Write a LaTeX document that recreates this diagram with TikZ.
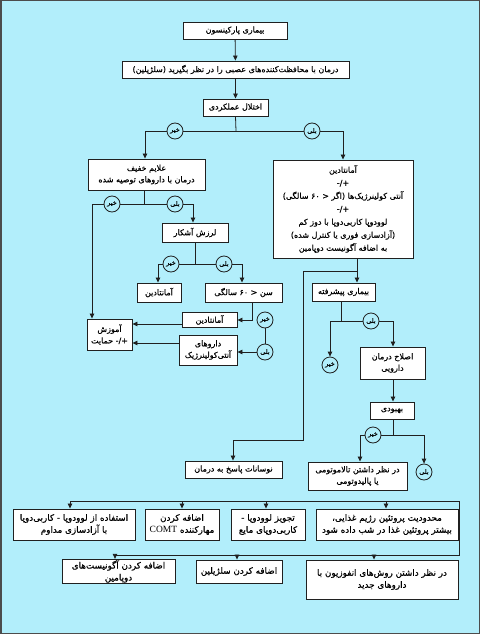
\documentclass[tikz,border=0pt]{standalone}
\usepackage{fontspec}
\usetikzlibrary{arrows.meta}
\newfontfamily\farsi[Script=Arabic, FakeBold=0.5]{DejaVu Sans}
\newfontfamily\latin{Liberation Serif}
\TeXXeTstate=1
\definecolor{bgcyan}{HTML}{B2EEFB}
\definecolor{ink}{HTML}{202020}

\begin{document}
\begin{tikzpicture}[x=1pt,y=-1pt]
        \def\fa#1{\beginR#1\endR}
        \def\pm{\beginL+/-\endL}
        \tikzstyle{box} = [draw=ink, line width=0.9pt, fill=white, inner sep=1pt, align=center, font=\farsi\fontsize{8}{11.5}\selectfont]
        \tikzstyle{big} = [font=\farsi\fontsize{8.8}{12}\selectfont]
        \tikzstyle{yn} = [circle, draw=ink, line width=0.8pt, fill=bgcyan, inner sep=0pt, minimum size=16pt, font=\farsi\fontsize{6.5}{6.5}\selectfont]
        \tikzstyle{link} = [draw=ink, line width=0.8pt]
        \tikzstyle{arr} = [link, -{Triangle[length=5pt,width=4.5pt]}]
        % Draw the background and its frame
        \useasboundingbox (0,0) rectangle (480,634);
        \fill[bgcyan] (0,0) rectangle (480,634);
        \draw[gray!60!black, line width=1.5pt] (0.75,0.75) rectangle (479.25,633.25);
        % Draw the boxes of the upper part
        \node[box, minimum width=104pt, minimum height=17pt] (park) at (235,30.5) {\fa{بیماری پارکینسون}};
        \node[box, minimum width=227pt, minimum height=17pt] (neuro) at (235.5,69.5) {\fa{درمان با محافظت‌کننده‌های عصبی را در نظر بگیرید (سلژیلین)}};
        \node[box, minimum width=65pt, minimum height=17pt] (func) at (235.5,107.5) {\fa{اختلال عملکردی}};
        \node[box, minimum width=117pt, minimum height=31pt] (mild) at (146.5,174.5) {\fa{علایم خفیف}\\\fa{درمان با داروهای توصیه شده}};
        \node[box, minimum width=140pt, minimum height=98pt, font=\farsi\fontsize{8}{13}\selectfont] (amanR) at (343,209) {\fa{آمانتادین}\\\fa{\pm}\\\fa{آنتی کولینرژیک‌ها (اگر \beginL<\endL{} ۶۰ سالگی)}\\\fa{\pm}\\\fa{لوودوپا کاربی‌دوپا با دوز کم}\\\fa{(آزادسازی فوری یا کنترل شده)}\\\fa{به اضافه آگونیست دوپامین}};
        % Draw the boxes of the left branch
        \node[box, minimum width=66pt, minimum height=19pt] (tremor) at (195,232.5) {\fa{لرزش آشکار}};
        \node[box, minimum width=44pt, minimum height=19pt] (aman1) at (159,292.5) {\fa{آمانتادین}};
        \node[box, minimum width=77pt, minimum height=19pt] (age) at (243.5,292.5) {\fa{سن \beginL<\endL{} ۶۰ سالگی}};
        \node[box, minimum width=45pt, minimum height=31pt] (edu) at (109.5,334.5) {\fa{آموزش}\\\fa{\pm{} حمایت}};
        \node[box, minimum width=55pt, minimum height=15pt] (aman2) at (209.5,320) {\fa{آمانتادین}};
        \node[box, minimum width=58pt, minimum height=30pt] (anti) at (208,350) {\fa{داروهای}\\\fa{آنتی‌کولینرژیک}};
        % Draw the boxes of the right branch
        \node[box, minimum width=63pt, minimum height=18pt] (adv) at (343.5,292) {\fa{بیماری پیشرفته}};
        \node[box, minimum width=65pt, minimum height=32pt] (adjust) at (392.5,363) {\fa{اصلاح درمان}\\\fa{دارویی}};
        \node[box, minimum width=44pt, minimum height=17pt] (improve) at (392,410.5) {\fa{بهبودی}};
        \node[box, minimum width=97pt, minimum height=17pt] (fluct) at (233.5,469.5) {\fa{نوسانات پاسخ به درمان}};
        \node[box, minimum width=99pt, minimum height=28pt] (thal) at (357.5,476) {\fa{در نظر داشتن تالاموتومی}\\\fa{یا پالیدوتومی}};
        % Draw the two rows of options at the bottom
        \node[box, big, minimum width=122pt, minimum height=31pt] (levo) at (74,524.5) {\fa{استفاده از لوودوپا - کاربی‌دوپا}\\\fa{با آزادسازی مداوم}};
        \node[box, big, minimum width=74pt, minimum height=31pt] (comt) at (182,524.5) {\fa{اضافه کردن}\\\fa{مهارکننده \beginL{\latin\fontsize{9.5}{10}\selectfont COMT}\endL}};
        \node[box, big, minimum width=74pt, minimum height=31pt] (liquid) at (268,524.5) {\fa{تجویز لوودوپا -}\\\fa{کاربی‌دوپای مایع}};
        \node[box, big, minimum width=142pt, minimum height=31pt] (protein) at (387,524.5) {\fa{محدودیت پروتئین رژیم غذایی،}\\\fa{بیشتر پروتئین غذا در شب داده شود}};
        \node[box, big, minimum width=113pt, minimum height=23pt] (agon) at (118.5,571.5) {\fa{اضافه کردن آگونیست‌های}\\\fa{دوپامین}};
        \node[box, big, minimum width=86pt, minimum height=23pt] (selg) at (239,571.5) {\fa{اضافه کردن سلژیلین}};
        \node[box, big, minimum width=152pt, minimum height=39pt] (infus) at (382,579.5) {\fa{در نظر داشتن روش‌های انفوزیون با}\\\fa{داروهای جدید}};
        % Junction points of the connectors
        \coordinate (fsplit) at (236,131); \coordinate (fno) at (145,131); \coordinate (fyes) at (343,131);
        \coordinate (msplit) at (144,204); \coordinate (mno) at (92,204); \coordinate (myes) at (193,204);
        \coordinate (tsplit) at (195,264); \coordinate (tno) at (158,264); \coordinate (tyes) at (242,264);
        \coordinate (abend) at (252,320);
        \coordinate (rsplit) at (357,271); \coordinate (rbend) at (303,271); \coordinate (rlow) at (303,440); \coordinate (fbend) at (233,440);
        \coordinate (psplit) at (341,321); \coordinate (pno) at (330,321); \coordinate (pyes) at (393,321);
        \coordinate (isplit) at (393,435); \coordinate (ino) at (360,435); \coordinate (iyes) at (424,435);
        \coordinate (dl) at (70,501); \coordinate (dr) at (459,501); \coordinate (dlow) at (459,555); \coordinate (dend) at (115,555);
        % Draw the arrows of the main column
        \draw[arr] (park) -- (neuro);
        \draw[arr] (neuro) -- (func);
        \draw[link] (func.south) -- (fsplit);
        \draw[link] (fno) -- (fyes);
        \draw[arr] (fno) -- (fno |- mild.north);
        \draw[arr] (fyes) -- (fyes |- amanR.north);
        % Draw the arrows of the left branch
        \draw[link] (mild.south -| msplit) -- (msplit);
        \draw[link] (mno) -- (myes);
        \draw[arr] (mno) -- (mno |- edu.north);
        \draw[arr] (myes) -- (myes |- tremor.north);
        \draw[link] (tremor.south -| tsplit) -- (tsplit);
        \draw[link] (tno) -- (tyes);
        \draw[arr] (tno) -- (tno |- aman1.north);
        \draw[arr] (tyes) -- (tyes |- age.north);
        \draw[arr] (age.south -| abend) -- (abend) -- (aman2.east |- abend);
        \coordinate (a2out) at ([yshift=-4pt]aman2.west);
        \coordinate (anout) at ([yshift=7pt]anti.west);
        \draw[arr] (a2out) -- (a2out -| edu.east);
        \draw[arr] (anout) -- (anout -| edu.east);
        % Draw the arrows of the right branch
        \draw[arr] (rsplit |- amanR.south) -- (rsplit |- adv.north);
        \draw[arr] (rsplit) -- (rbend) -- (rlow) -- (fbend) -- (fbend |- fluct.north);
        \draw[link] (adv.south -| psplit) -- (psplit);
        \draw[link] (pno) -- (pyes);
        \draw[arr] (pyes) -- (pyes |- adjust.north);
        \draw[arr] (adjust.south -| pyes) -- (improve.north -| pyes);
        \draw[link] (improve.south -| isplit) -- (isplit);
        \draw[link] (ino) -- (iyes);
        \draw[arr] (ino) -- (ino |- thal.north);
        % Draw the distributor lines to the options
        \draw[link] (dl) -- (dr) -- (dlow) -- (dend);
        \foreach \b/\s in {levo/-4, comt/0, liquid/-2, protein/-1} {
            \draw[arr] ([xshift=\s pt]\b.north |- dl) -- ([xshift=\s pt]\b.north);
        }
        \foreach \b/\s in {agon/-3.5, selg/-2, infus/-8} {
            \draw[arr] ([xshift=\s pt]\b.north |- dend) -- ([xshift=\s pt]\b.north);
        }
        % Draw the yes / no circles
        \foreach \n/\x/\y/\t in {c1/175/131/خیر, c2/312/131/بلی, c3/112/204/خیر, c4/175/204/بلی, c5/171/264/خیر, c6/224/264/بلی, c7/265/320/خیر, c8/265/352/بلی, c9/371/321/بلی, c10/330/365/خیر, c11/373/435/خیر, c12/424/472/بلی} {
            \node[yn] (\n) at (\x,\y) {\fa{\t}};
        }
        % Draw the arrows that end or start at a circle
        \draw[link] (c7) -- (c8);
        \draw[arr] (c8) -- (c8 -| anti.east);
        \draw[arr] (pno) -- (c10.north);
        \draw[arr] (iyes) -- (c12.north);
\end{tikzpicture}
\end{document}
